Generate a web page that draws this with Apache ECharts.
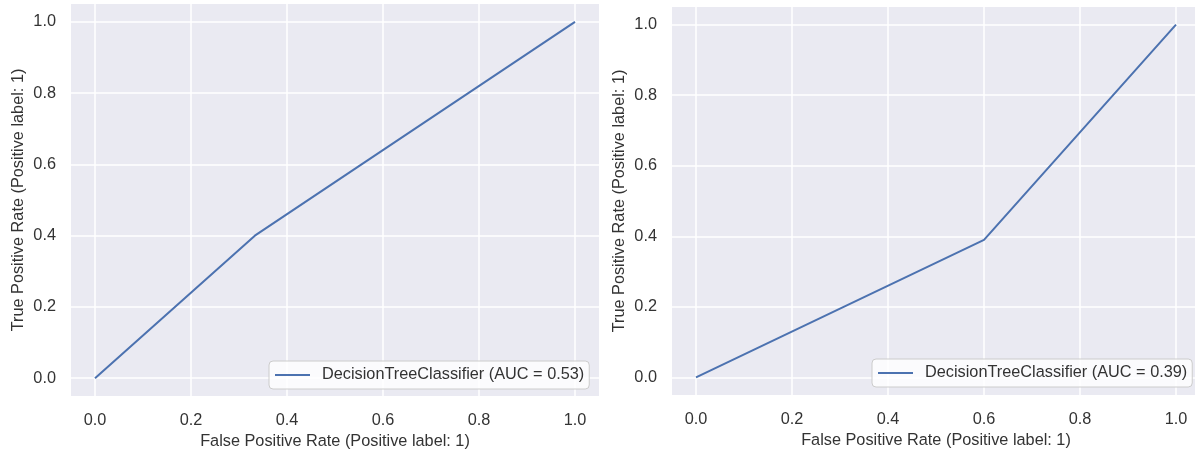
<!DOCTYPE html>
<html>
<head>
<meta charset="utf-8">
<script src="https://cdn.jsdelivr.net/npm/echarts@6/dist/echarts.min.js"></script>
<style>html,body{margin:0;padding:0;background:#fff;}#c{width:1195px;height:449px;}</style>
</head>
<body>
<div id="c"></div>
<script>
// ---- data ----
const tickValues = [0, 0.2, 0.4, 0.6, 0.8, 1.0];
const leftFpr = [0, 0.333, 1];
const leftTpr = [0, 0.4, 1];
const leftName = 'DecisionTreeClassifier (AUC = 0.53)';
const rightFpr = [0, 0.6, 1];
const rightTpr = [0, 0.39, 1];
const rightName = 'DecisionTreeClassifier (AUC = 0.39)';
const xTitle = 'False Positive Rate (Positive label: 1)';
const yTitle = 'True Positive Rate (Positive label: 1)';

const FONT = 'Liberation Sans, Arial, sans-serif';
const TXT = '#333333';
const LINE = '#4C72B0';
const FS = 16.3;

function pairs(xs, ys) { return xs.map((x, i) => [x, ys[i]]); }

function xAxisFor(gi) {
  return {
    type: 'value', gridIndex: gi, min: -0.05, max: 1.05,
    name: xTitle, nameLocation: 'middle', nameGap: 33,
    nameTextStyle: { fontFamily: FONT, fontSize: FS, color: TXT },
    axisLine: { show: false }, axisTick: { show: false, customValues: tickValues },
    axisLabel: { customValues: tickValues, formatter: v => v.toFixed(1), fontFamily: FONT, fontSize: FS, color: TXT, margin: 17 },
    splitLine: { show: true, lineStyle: { color: '#ffffff', width: 1.5 } }
  };
}
function yAxisFor(gi) {
  return {
    type: 'value', gridIndex: gi, min: -0.05, max: 1.05,
    name: yTitle, nameLocation: 'middle', nameGap: 44, nameRotate: 90,
    nameTextStyle: { fontFamily: FONT, fontSize: FS, color: TXT },
    axisLine: { show: false }, axisTick: { show: false, customValues: tickValues },
    axisLabel: { customValues: tickValues, formatter: v => v.toFixed(1), fontFamily: FONT, fontSize: FS, color: TXT, margin: 15 },
    splitLine: { show: true, lineStyle: { color: '#ffffff', width: 1.5 } }
  };
}
function legendFor(name, left, top) {
  return {
    data: [name], left: left, top: top, orient: 'horizontal',
    itemWidth: 35, itemHeight: 14,
    padding: [6, 5, 6, 5],
    itemStyle: { opacity: 0 },
    backgroundColor: 'rgba(255,255,255,0.8)', borderColor: '#cccccc', borderWidth: 1, borderRadius: 4,
    textStyle: { fontFamily: FONT, fontSize: FS, color: TXT, padding: [0, 0, 0, 7] }
  };
}

const chart = echarts.init(document.getElementById('c'), null, { renderer: 'canvas' });
chart.setOption({
  backgroundColor: '#ffffff',
  animation: false,
  grid: [
    { left: 71, top: 4, width: 528, height: 392, show: true, backgroundColor: '#EAEAF2', borderWidth: 0, containLabel: false, outerBoundsMode: 'none' },
    { left: 672, top: 7, width: 528, height: 388, show: true, backgroundColor: '#EAEAF2', borderWidth: 0, containLabel: false, outerBoundsMode: 'none' }
  ],
  xAxis: [xAxisFor(0), xAxisFor(1)],
  yAxis: [yAxisFor(0), yAxisFor(1)],
  legend: [legendFor(leftName, 269, 361), legendFor(rightName, 872, 359)],
  series: [
    { name: leftName, type: 'line', xAxisIndex: 0, yAxisIndex: 0, data: pairs(leftFpr, leftTpr),
      symbol: 'none', lineStyle: { color: LINE, width: 2 }, itemStyle: { color: LINE } },
    { name: rightName, type: 'line', xAxisIndex: 1, yAxisIndex: 1, data: pairs(rightFpr, rightTpr),
      symbol: 'none', lineStyle: { color: LINE, width: 2 }, itemStyle: { color: LINE } }
  ]
});
</script>
</body>
</html>
